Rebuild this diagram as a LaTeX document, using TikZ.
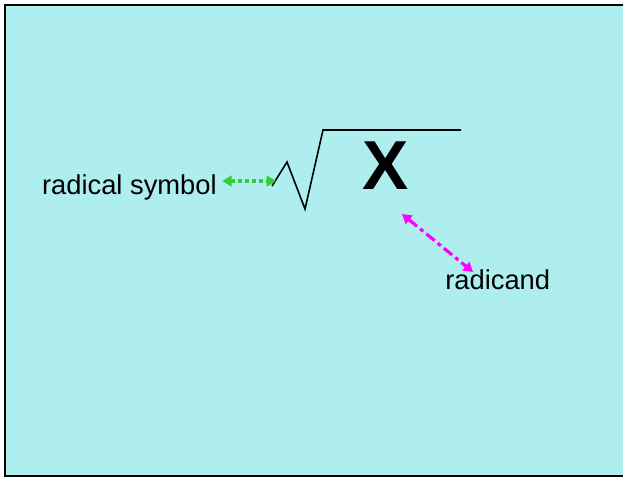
\documentclass[tikz,border=0pt]{standalone}
\usepackage{fontspec}
\setmainfont{Liberation Sans}
\usepackage{tikz}
\usetikzlibrary{positioning, arrows.meta}
\definecolor{slide}{HTML}{AFEEEE}
\definecolor{accent}{HTML}{33CC33}
\definecolor{accent2}{HTML}{FF00FF}

\begin{document}
\begin{tikzpicture}[
  x=0.75pt, y=-0.75pt,
  lbl/.style={inner sep=0pt, font=\fontsize{20.5}{24}\selectfont},
  radline/.style={line width=1.2pt, line join=miter},
  greenar/.style={{Triangle[length=7pt,width=8pt]}-{Triangle[length=7pt,width=8pt]},
                  accent, line width=3pt, dash pattern=on 3pt off 2.2pt},
  pinkar/.style={{Triangle[length=7pt,width=8pt]}-{Triangle[length=7pt,width=8pt]},
                 accent2, line width=2.4pt, dash pattern=on 8pt off 3pt on 3pt off 3pt},
]
  \useasboundingbox (0,0) rectangle (623,478);
  \clip (0,0) rectangle (623,478);
  \fill[slide] (5,5) rectangle (623,476);
  \draw[line width=1.5pt] (623,5) -- (5,5) -- (5,476) -- (623,476);

  % the radical sign
  \coordinate (radstart) at (272,186);
  \draw[radline] (radstart) -- (287,162) -- (305,209) -- (323,130) -- (461,130);
  \node[inner sep=0pt, font=\fontsize{52}{60}\selectfont\bfseries] (x) at (386,166) {X};

  % labels
  \node[lbl, anchor=base east] (symb) at (217,194) {radical symbol};
  \node[lbl, anchor=base west] (rcand) at (445,289) {radicand};

  \coordinate (gtip) at (276,181);
  \coordinate (xtip) at (402,214);
  \coordinate (ctip) at (473,272);
  \draw[greenar] ([xshift=4pt]symb.east |- gtip) -- (gtip);
  \draw[pinkar] (xtip) -- (ctip);
\end{tikzpicture}
\end{document}
